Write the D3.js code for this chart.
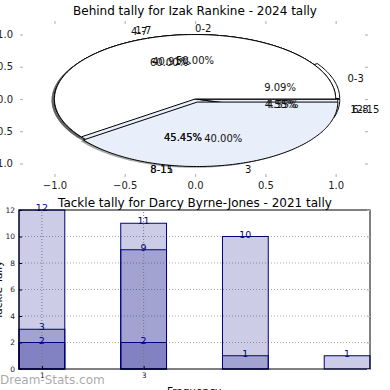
<!DOCTYPE html>
<html>
<head>
<meta charset="utf-8">
<script src="https://cdn.jsdelivr.net/npm/d3@7"></script>
<style>
  body { margin: 0; background: #fff; }
  svg { font-family: "DejaVu Sans", sans-serif; }
</style>
</head>
<body>
<div id="chart"></div>
<script>
// Pie data (three pies drawn on top of each other)
const pieLabelsA = ["0-3", "1-7", "8-15", "6-8"];
const pieValuesA = [2, 9, 10, 1];
const pieLabelsB = ["0-2", "8-11", "12-15"];
const pieValuesB = [11, 10, 1];
const pieLabelsC = ["4-7", "3"];
const pieValuesC = [3, 2];
const pieTicks = [-1, -0.5, 0, 0.5, 1];

// Bar data (bars overlap, each drawn from 0)
const barCats = [1, 3, 5, 7];
const tallyHigh = [12, 11, 10, 1];
const tallyMid = [3, 9, 1, 0];
const tallyLow = [2, 2, 0, 0];
const barTicksY = [0, 2, 4, 6, 8, 10, 12];
const barTicksX = [1, 3];

const W = 390, H = 390;
const svg = d3.select("#chart").append("svg").attr("width", W).attr("height", H);

// ---------- top: pie ----------
const px = d3.scaleLinear().domain([-1.245, 1.23]).range([20, 368]);
const py = d3.scaleLinear().domain([-1.21, 1.21]).range([177, 21]);

svg.append("text").attr("x", 195).attr("y", 15).attr("text-anchor", "middle")
  .attr("font-size", 12).text("Behind tally for Izak Rankine - 2024 tally");

const tickCol = "#b8b8b8";
function styleAxis(g) {
  g.select(".domain").remove();
  g.selectAll(".tick line").attr("stroke", tickCol).attr("stroke-width", 1.2);
  g.selectAll(".tick text").attr("fill", "#222").attr("font-size", 10)
    .attr("font-family", "DejaVu Sans, sans-serif");
}
const fmtTick = d => d3.format(".1f")(d).replace("-", "\u2212");
svg.append("g").attr("transform", "translate(0,177)")
  .call(d3.axisBottom(px).tickValues(pieTicks).tickSize(-3).tickPadding(5).tickFormat(fmtTick)).call(styleAxis);
svg.append("g").attr("transform", "translate(0,21)")
  .call(d3.axisTop(px).tickValues(pieTicks).tickSize(-3).tickFormat("")).call(styleAxis);
svg.append("g").attr("transform", "translate(20,0)")
  .call(d3.axisLeft(py).tickValues(pieTicks).tickSize(-3).tickPadding(7).tickFormat(fmtTick)).call(styleAxis);
svg.append("g").attr("transform", "translate(368,0)")
  .call(d3.axisRight(py).tickValues(pieTicks).tickSize(-3).tickFormat("")).call(styleAxis);

const white = "#ffffff", blue = "#e8eefa";
const pies = [
  { values: pieValuesA, labels: pieLabelsA, explode: [0.03, 0, 0, 0.03], colors: [white, white, blue, blue] },
  { values: pieValuesB, labels: pieLabelsB, explode: [0, 0, 0.015], colors: [white, blue, blue] },
  { values: pieValuesC, labels: pieLabelsC, explode: [0, 0.05], colors: [white, blue] }
];

const pieGen = d3.pie().sort(null).startAngle(0).endAngle(2 * Math.PI);
const line = d3.line().x(d => px(d[0])).y(d => py(d[1]));

function wedgePoints(a0, a1, ox, oy) {
  const pts = [[ox, oy]];
  const n = Math.max(4, Math.ceil((a1 - a0) / 0.02));
  for (let k = 0; k <= n; k++) {
    const a = a0 + (a1 - a0) * k / n;
    pts.push([ox + Math.cos(a), oy + Math.sin(a)]);
  }
  pts.push([ox, oy]);
  return pts;
}

const shadowLayer = svg.append("g");
const wedgeLayer = svg.append("g");
const textLayer = svg.append("g").attr("font-size", 10).attr("fill", "#111");

pies.forEach(p => {
  const total = d3.sum(p.values);
  pieGen(p.values).forEach((arc, i) => {
    const mid = (arc.startAngle + arc.endAngle) / 2;
    const ox = p.explode[i] * Math.cos(mid), oy = p.explode[i] * Math.sin(mid);
    const pts = wedgePoints(arc.startAngle, arc.endAngle, ox, oy);
    // matplotlib style shadow
    shadowLayer.append("path")
      .attr("d", line(pts.map(d => [d[0] - 0.02, d[1] - 0.02])))
      .attr("fill", "#4d4d4d").attr("fill-opacity", 0.5).attr("stroke", "none");
    wedgeLayer.append("path").attr("d", line(pts))
      .attr("fill", p.colors[i]).attr("stroke", "#000").attr("stroke-width", 1)
      .attr("stroke-linejoin", "round");
    // category label
    const lx = ox + 1.1 * Math.cos(mid), ly = oy + 1.1 * Math.sin(mid);
    textLayer.append("text").attr("x", px(lx)).attr("y", py(ly)).attr("dy", "0.35em")
      .attr("text-anchor", Math.cos(mid) > 0 ? "start" : "end").text(p.labels[i]);
    // percentage
    const tx = ox + 0.6 * Math.cos(mid), ty = oy + 0.6 * Math.sin(mid);
    textLayer.append("text").attr("x", px(tx)).attr("y", py(ty)).attr("dy", "0.35em")
      .attr("text-anchor", "middle").text((arc.value / total * 100).toFixed(2) + "%");
  });
});

// ---------- bottom: bars ----------
const bx = d3.scaleLinear().domain([0.55, 7.45]).range([19, 370]);
const by = d3.scaleLinear().domain([0, 12]).range([369, 210]);
const bw = bx(1.45) - bx(0.55);

svg.append("text").attr("x", 195).attr("y", 207).attr("text-anchor", "middle")
  .attr("font-size", 12).text("Tackle tally for Darcy Byrne-Jones - 2021 tally");

// horizontal grid
const grid = svg.append("g").attr("stroke", "#aaa").attr("stroke-dasharray", "1,2");
barTicksY.filter(v => v > 0 && v < 12).forEach(v => {
  grid.append("line").attr("x1", bx(0.55)).attr("x2", bx(7.45)).attr("y1", by(v)).attr("y2", by(v));
});

const navy = "#000080";
[tallyHigh, tallyMid, tallyLow].forEach(series => {
  series.forEach((v, i) => {
    if (v <= 0) return;
    svg.append("rect")
      .attr("x", bx(barCats[i] - 0.45)).attr("y", by(v))
      .attr("width", bw).attr("height", by(0) - by(v))
      .attr("fill", navy).attr("fill-opacity", 0.2)
      .attr("stroke", navy).attr("stroke-width", 1);
  });
});

// vertical grid drawn over the bars
const vgrid = svg.append("g").attr("stroke", "#777").attr("stroke-dasharray", "1,2");
barTicksX.forEach(v => {
  vgrid.append("line").attr("x1", bx(v)).attr("x2", bx(v)).attr("y1", by(0)).attr("y2", by(12));
});

[tallyHigh, tallyMid, tallyLow].forEach(series => {
  series.forEach((v, i) => {
    if (v <= 0) return;
    svg.append("text").attr("x", bx(barCats[i])).attr("y", by(v) + 1)
      .attr("text-anchor", "middle").attr("font-size", 9.5).attr("fill", navy).text(v);
  });
});

svg.append("rect").attr("x", 19).attr("y", 210).attr("width", 351).attr("height", 159)
  .attr("fill", "none").attr("stroke", "#000").attr("stroke-width", 1);

function styleSmall(g, col) {
  g.select(".domain").remove();
  g.selectAll(".tick line").attr("stroke", col);
  g.selectAll(".tick text").attr("fill", "#222").attr("font-size", 7.5)
    .attr("font-family", "DejaVu Sans, sans-serif");
}
svg.append("g").attr("transform", "translate(19,0)")
  .call(d3.axisLeft(by).tickValues(barTicksY).tickSize(-3).tickPadding(4)).call(g => styleSmall(g, "#000"));
svg.append("g").attr("transform", "translate(370,0)")
  .call(d3.axisRight(by).tickValues(barTicksY).tickSize(-3).tickFormat("")).call(g => styleSmall(g, tickCol));
svg.append("g").attr("transform", "translate(0,369)")
  .call(d3.axisBottom(bx).tickValues(barTicksX).tickSize(-3).tickPadding(4).tickFormat(d3.format("d")))
  .call(g => styleSmall(g, "#000"));

svg.append("text").attr("x", 194).attr("y", 395).attr("text-anchor", "middle")
  .attr("font-size", 10.5).text("Frequency");
svg.append("text").attr("transform", "translate(2,290) rotate(-90)").attr("text-anchor", "middle")
  .attr("font-size", 10.5).text("Tackle Tally");

svg.append("text").attr("x", 0).attr("y", 384).attr("font-size", 12)
  .attr("fill", "#999").attr("fill-opacity", 0.85).text("Dream-Stats.com");
</script>
</body>
</html>
